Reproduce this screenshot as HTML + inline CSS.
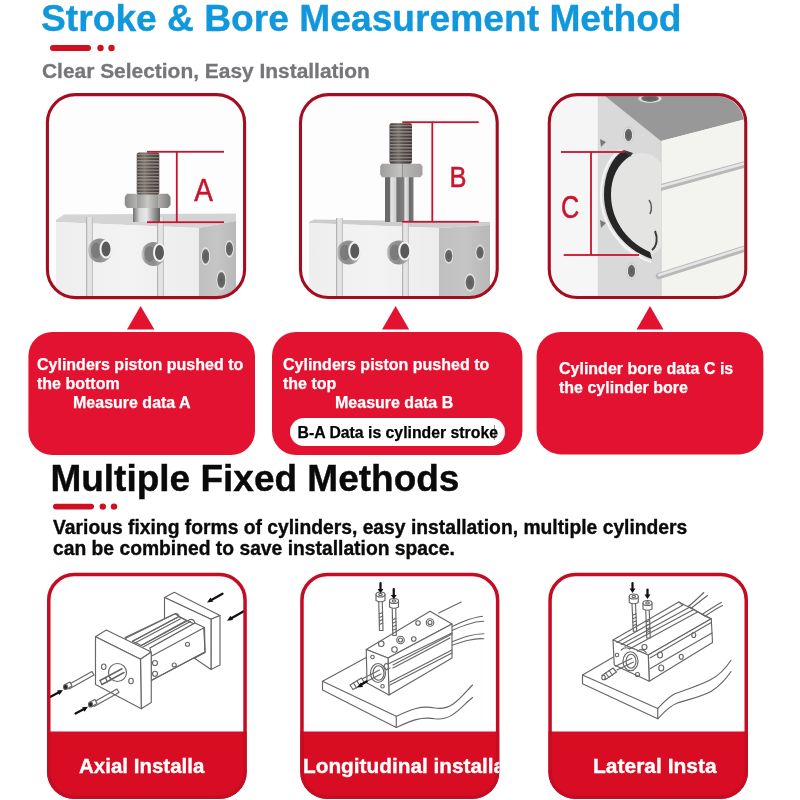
<!DOCTYPE html>
<html><head><meta charset="utf-8">
<style>
html,body{margin:0;padding:0;background:#fff;width:800px;height:800px;overflow:hidden}
svg{display:block;font-family:"Liberation Sans",sans-serif;will-change:transform}
</style></head>
<body>
<svg width="800" height="800" viewBox="0 0 800 800">
<defs>
  <linearGradient id="sideg" x1="0" x2="1" y1="0" y2="0">
    <stop offset="0" stop-color="#bfbfbf"/><stop offset="0.5" stop-color="#c5c5c5"/><stop offset="1" stop-color="#b8b8b8"/>
  </linearGradient>
  <linearGradient id="hring" x1="0" x2="1" y1="0" y2="0">
    <stop offset="0" stop-color="#cfcfcf"/><stop offset="0.15" stop-color="#9a9a9a"/><stop offset="0.5" stop-color="#8c8c8c"/><stop offset="1" stop-color="#bcbcbc"/>
  </linearGradient>
  <g id="hole">
    <circle cx="0" cy="0" r="12" fill="url(#hring)"/>
    <ellipse cx="-4" cy="0" rx="5" ry="8" fill="#6a6a6a" opacity="0.6"/>
    <ellipse cx="6" cy="-1.5" rx="5.5" ry="8.5" fill="#5a5a5a" stroke="#f2f2f2" stroke-width="2"/>
  </g>
  <clipPath id="c1"><rect x="49" y="96.3" width="194" height="200" rx="27"/></clipPath>
  <clipPath id="c2"><rect x="302" y="96.3" width="194" height="200" rx="27"/></clipPath>
  <clipPath id="c3"><rect x="551" y="96.3" width="193" height="200" rx="27"/></clipPath>
  <clipPath id="b1"><rect x="47" y="572.8" width="199.8" height="226" rx="27"/></clipPath>
  <clipPath id="b2"><rect x="300.2" y="572.8" width="199.2" height="226" rx="27"/></clipPath>
  <clipPath id="b3"><rect x="548.3" y="572.8" width="199.7" height="226" rx="27"/></clipPath>
</defs>

<!-- ===== Header ===== -->
<text x="41" y="31.4" font-size="37.2" font-weight="bold" fill="#1097dc" stroke="#1097dc" stroke-width="0.35">Stroke &amp; Bore Measurement Method</text>
<rect x="50" y="45" width="41" height="6" rx="3" fill="#d01020"/>
<circle cx="100.5" cy="48" r="3.2" fill="#d01020"/>
<circle cx="111.5" cy="48" r="3.2" fill="#d01020"/>
<text x="42" y="77.7" font-size="20.93" font-weight="bold" fill="#76767a" stroke="#76767a" stroke-width="0.3">Clear Selection, Easy Installation</text>

<!-- ===== Photo boxes ===== -->
<g id="photos">
<defs>
  <linearGradient id="shaft2g" x1="0" x2="1" y1="0" y2="0">
    <stop offset="0" stop-color="#6a6a6a"/><stop offset="0.17" stop-color="#6a6a6a"/><stop offset="0.2" stop-color="#e6e6e6"/><stop offset="0.38" stop-color="#d0d0d0"/><stop offset="0.42" stop-color="#707070"/><stop offset="0.66" stop-color="#808080"/><stop offset="0.7" stop-color="#e8e8e8"/><stop offset="0.82" stop-color="#c8c8c8"/><stop offset="0.85" stop-color="#6a6a6a"/><stop offset="1" stop-color="#7a7a7a"/>
  </linearGradient>
  <linearGradient id="rod2g" x1="0" x2="1" y1="0" y2="0">
    <stop offset="0" stop-color="#3e3a38"/><stop offset="0.4" stop-color="#6e6864"/><stop offset="0.65" stop-color="#504a47"/><stop offset="1" stop-color="#3a3634"/>
  </linearGradient>
  <linearGradient id="nut2g" x1="0" x2="1" y1="0" y2="0">
    <stop offset="0" stop-color="#9c9c9a"/><stop offset="0.5" stop-color="#c6c6c4"/><stop offset="0.52" stop-color="#8a8a88"/><stop offset="0.55" stop-color="#b8b8b6"/><stop offset="1" stop-color="#a0a09e"/>
  </linearGradient>
</defs>
<g clip-path="url(#c2)">
  <rect x="298" y="90" width="205" height="210" fill="#fdfdfd"/>
  <polygon points="309,222 314,219.5 490,222 490,225 439,228 309,223" fill="#cdcdcd"/>
  <polygon points="309,223 439,228 439,302 309,302" fill="url(#frontg)"/>
  <polygon points="439,228 490,225 490,302 439,302" fill="url(#sideg)"/>
  <rect x="336" y="218" width="7" height="84" fill="#e4e4e4"/>
  <rect x="336" y="218" width="1.2" height="84" fill="#b4b4b4"/>
  <rect x="341.8" y="218" width="1.2" height="84" fill="#c4c4c4"/>
  <rect x="402" y="218" width="7" height="84" fill="#e4e4e4"/>
  <rect x="402" y="218" width="1.2" height="84" fill="#b4b4b4"/>
  <rect x="407.8" y="218" width="1.2" height="84" fill="#c4c4c4"/>
  <use href="#hole" x="348.75" y="252.5"/>
  <use href="#hole" x="398.75" y="252.5"/>
  <ellipse cx="448.75" cy="256" rx="5" ry="8.5" fill="url(#sholeg)"/>
  <ellipse cx="480" cy="252.5" rx="5" ry="8.5" fill="url(#sholeg)"/>
  <ellipse cx="470" cy="282.5" rx="6" ry="10" fill="url(#sholeg)"/>
  <rect x="385" y="177" width="28.5" height="45" fill="url(#shaft2g)"/>
  <polygon points="380.2,166.5 382,163.75 420.5,163.75 422.5,166.5 422.5,174.5 420.5,177.25 382,177.25 380.2,174.5" fill="url(#nut2g)"/>
  <rect x="389.5" y="123.25" width="22.5" height="40.5" rx="2" fill="url(#rod2g)"/>
  <rect x="389.5" y="124.5" width="22.5" height="38" fill="url(#thread)"/>
  <g fill="#c8142e">
    <rect x="402.25" y="121.3" width="76.5" height="1.8"/>
    <rect x="402.25" y="220.9" width="76.5" height="1.8"/>
    <rect x="431.4" y="121.5" width="1.8" height="100"/>
  </g>
  <text x="0" y="0" font-size="30" fill="#c8142e" stroke="#c8142e" stroke-width="0.5" transform="translate(449.5,186.6) scale(0.85,1)">B</text>
</g>

<defs>
  <linearGradient id="endg" x1="0" x2="1" y1="0" y2="0">
    <stop offset="0" stop-color="#d8d8d8"/><stop offset="1" stop-color="#c8c8c8"/>
  </linearGradient>
  <linearGradient id="front3g" x1="0" x2="1" y1="0" y2="1">
    <stop offset="0" stop-color="#f4f4f0"/><stop offset="1" stop-color="#ececea"/>
  </linearGradient>
  <radialGradient id="pistong" cx="0.5" cy="0.45" r="0.6">
    <stop offset="0" stop-color="#e6e6e4"/><stop offset="1" stop-color="#c4c4c2"/>
  </radialGradient>
</defs>
<g clip-path="url(#c3)">
  <rect x="545" y="90" width="205" height="210" fill="#f6f6f6"/>
  <!-- end face -->
  <polygon points="597,96 661,96 661,301 597,301" fill="#d9d9d9"/>
  <line x1="597.5" y1="96" x2="597.5" y2="301" stroke="#eeeeee" stroke-width="1"/>
  <!-- top face (dark) -->
  <polygon points="605,96 750,96 750,118 661,141" fill="#989898"/>
  <!-- front face -->
  <polygon points="661,141 750,118 750,301 661,301" fill="#f3f3ef"/>
  <line x1="661" y1="141" x2="661" y2="301" stroke="#cfcfcf" stroke-width="1.2"/>
  <!-- grooves -->
  <line x1="659" y1="188" x2="750" y2="163" stroke="#b8b8b8" stroke-width="6.5" stroke-linecap="round"/>
  <line x1="659" y1="187" x2="750" y2="162" stroke="#e6e6e6" stroke-width="2.5" stroke-linecap="round"/>
  <line x1="659" y1="276" x2="750" y2="247" stroke="#b8b8b8" stroke-width="6.5" stroke-linecap="round"/>
  <line x1="659" y1="275" x2="750" y2="246" stroke="#e6e6e6" stroke-width="2.5" stroke-linecap="round"/>
  <!-- piston + o-ring -->
  <clipPath id="endclip"><rect x="597" y="96" width="64" height="205"/></clipPath>
  <g clip-path="url(#endclip)">
    <ellipse cx="642" cy="205" rx="33" ry="52" fill="#e4e4e2"/>
  </g>
  <path d="M621,150 C608,158 601,175 601,195 C601,226 623,252 651,262" fill="none" stroke="#f4f4f4" stroke-width="2.2"/>
  <path d="M624,150 C611,158 604,175 604,195 C604,225 625,250 652,259 L650,252 C630,244 611,222 611,195 C611,177 618,164 630,156 Z" fill="#262626"/>
  <path d="M624,150 L633,153 L630,157 Z" fill="#3a3a3a"/>
  <path d="M649,200 C652,204 652,210 650,214" stroke="#5a5a5a" stroke-width="1.5" fill="none"/>
  <path d="M655,231 C658,238 657,246 652,250" stroke="#3a3a3a" stroke-width="2" fill="none"/>
  <!-- small holes -->
  <ellipse cx="628.5" cy="135" rx="5" ry="8.5" fill="url(#sholeg)"/>
  <ellipse cx="631.5" cy="271" rx="5" ry="8.5" fill="url(#sholeg)"/>
  <ellipse cx="650" cy="98.5" rx="12" ry="4.5" fill="url(#sholeg)"/>
  <polygon points="600,139 606,142 601,147" fill="#7a7a7a"/>
  <polygon points="600,220 606,223 601,228" fill="#7a7a7a"/>
  <g fill="#c8142e">
    <rect x="561" y="151.1" width="64" height="1.8"/>
    <rect x="563.7" y="254.1" width="75.3" height="1.8"/>
    <rect x="590.1" y="152" width="1.8" height="103"/>
  </g>
  <text x="0" y="0" font-size="31.5" fill="#c8142e" stroke="#c8142e" stroke-width="0.6" transform="translate(561,217.6) scale(0.8,1)">C</text>
</g>

<defs>
  <linearGradient id="rodg" x1="0" x2="1" y1="0" y2="0">
    <stop offset="0" stop-color="#4a4440"/><stop offset="0.35" stop-color="#7a726c"/><stop offset="0.6" stop-color="#5a524e"/><stop offset="1" stop-color="#3e3834"/>
  </linearGradient>
  <pattern id="thread" width="24" height="3.2" patternUnits="userSpaceOnUse">
    <rect width="24" height="1.3" fill="#b0a8a2" opacity="0.7"/>
  </pattern>
  <linearGradient id="nutg" x1="0" x2="1" y1="0" y2="0">
    <stop offset="0" stop-color="#8a8a88"/><stop offset="0.27" stop-color="#b4b4b2"/><stop offset="0.28" stop-color="#9c9c9a"/><stop offset="0.5" stop-color="#c8c8c6"/><stop offset="0.72" stop-color="#9a9a98"/><stop offset="0.73" stop-color="#b0b0ae"/><stop offset="1" stop-color="#7c7c7a"/>
  </linearGradient>
  <linearGradient id="shaftg" x1="0" x2="1" y1="0" y2="0">
    <stop offset="0" stop-color="#707070"/><stop offset="0.25" stop-color="#d8d8d8"/><stop offset="0.5" stop-color="#e8e8e8"/><stop offset="0.75" stop-color="#a0a0a0"/><stop offset="1" stop-color="#606060"/>
  </linearGradient>
  <linearGradient id="frontg" x1="0" x2="1" y1="0" y2="0">
    <stop offset="0" stop-color="#eeeeee"/><stop offset="0.5" stop-color="#f3f3f3"/><stop offset="1" stop-color="#ececec"/>
  </linearGradient>
  <radialGradient id="holeg" cx="0.45" cy="0.5" r="0.5">
    <stop offset="0" stop-color="#4a4a4a"/><stop offset="0.45" stop-color="#5a5a5a"/><stop offset="0.62" stop-color="#a8a8a8"/><stop offset="0.85" stop-color="#7a7a7a"/><stop offset="1" stop-color="#b0b0b0"/>
  </radialGradient>
  <radialGradient id="sholeg" cx="0.5" cy="0.5" r="0.5">
    <stop offset="0" stop-color="#5a5a5a"/><stop offset="0.65" stop-color="#6a6a6a"/><stop offset="0.8" stop-color="#e8e8e8"/><stop offset="1" stop-color="#bdbdbd"/>
  </radialGradient>
</defs>
<g clip-path="url(#c1)">
  <rect x="45" y="90" width="205" height="210" fill="#fdfdfd"/>
  <polygon points="56,220 64,214.5 236,213.5 236,221 199,228 56,222" fill="#d4d4d4"/>
  <polygon points="56,222 199,228 199,301 56,301" fill="url(#frontg)"/>
  <polygon points="199,228 236,221 236,301 199,301" fill="url(#sideg)"/>
  <rect x="86" y="217" width="7" height="84" fill="#e4e4e4"/>
  <rect x="86" y="217" width="1.2" height="84" fill="#b4b4b4"/>
  <rect x="91.8" y="217" width="1.2" height="84" fill="#c4c4c4"/>
  <rect x="157" y="217" width="7" height="84" fill="#e4e4e4"/>
  <rect x="157" y="217" width="1.2" height="84" fill="#b4b4b4"/>
  <rect x="162.8" y="217" width="1.2" height="84" fill="#c4c4c4"/>
  <use href="#hole" x="100" y="250.5"/>
  <use href="#hole" x="153.5" y="254"/>
  <ellipse cx="205.6" cy="256.3" rx="5" ry="10" fill="url(#sholeg)"/>
  <ellipse cx="229.4" cy="248.8" rx="4.8" ry="9.5" fill="url(#sholeg)"/>
  <ellipse cx="221.3" cy="280" rx="5.5" ry="11" fill="url(#sholeg)"/>
  <rect x="133" y="206" width="27" height="16" fill="url(#shaftg)"/>
  <polygon points="124.75,197 127,193.75 168,193.75 170.5,197 170.5,205 168,208 127,208 124.75,205" fill="url(#nutg)"/>
  <rect x="136.75" y="152.5" width="22.5" height="42" rx="2" fill="url(#rodg)"/>
  <rect x="136.75" y="153.5" width="22.5" height="40" fill="url(#thread)"/>
  <g fill="#c8142e">
    <rect x="147" y="150.9" width="77" height="1.8"/>
    <rect x="147" y="221.3" width="77" height="1.8"/>
    <rect x="175.9" y="151" width="1.8" height="71"/>
  </g>
  <text x="0" y="0" font-size="31" fill="#c8142e" stroke="#c8142e" stroke-width="0.5" transform="translate(194.3,201.3) scale(0.9,1)">A</text>
</g>
</g>
<rect x="47.4" y="94.6" width="197.2" height="203" rx="28" fill="none" stroke="#a40c20" stroke-width="3.1"/>
<rect x="300.5" y="94.6" width="196.7" height="202.9" rx="28" fill="none" stroke="#a40c20" stroke-width="3.1"/>
<rect x="549.25" y="94.6" width="196.5" height="202.9" rx="28" fill="none" stroke="#a40c20" stroke-width="3.1"/>

<!-- ===== Triangles + red boxes ===== -->
<g fill="#e31230">
  <polygon points="127,329.6 140.6,306 154.4,329.6"/>
  <polygon points="382,329.6 395.6,306 409.2,329.6"/>
  <polygon points="636.5,329.6 650,306 663.5,329.6"/>
  <rect x="28.4" y="332" width="226.6" height="123" rx="24"/>
  <rect x="272" y="332" width="250.4" height="123" rx="24"/>
  <rect x="536.6" y="332" width="226.8" height="122.4" rx="24"/>
</g>
<g fill="#fff" font-size="16" font-weight="bold" stroke="#fff" stroke-width="0.25">
  <text x="37" y="370">Cylinders piston pushed to</text>
  <text x="37" y="388.6">the bottom</text>
  <text x="73" y="407.6">Measure data A</text>
  <text x="283" y="370">Cylinders piston pushed to</text>
  <text x="283" y="388.6">the top</text>
  <text x="335" y="407.6">Measure data B</text>
  <text x="559" y="374">Cylinder bore data C is</text>
  <text x="559" y="393.2">the cylinder bore</text>
</g>
<rect x="290" y="418" width="215" height="28" rx="14" fill="#fff"/>
<rect x="494.2" y="425" width="0.8" height="15" fill="#000" opacity="0.55"/>
<text x="297.5" y="438" font-size="15.8" font-weight="bold" fill="#000" stroke="#000" stroke-width="0.25">B-A Data is cylinder stroke</text>

<!-- ===== Section 2 ===== -->
<text x="50.4" y="490.6" font-size="37" font-weight="bold" fill="#0a0a0a" stroke="#0a0a0a" stroke-width="0.4">Multiple Fixed Methods</text>
<rect x="53" y="503.8" width="41" height="5.6" rx="2.8" fill="#d01020"/>
<circle cx="102.8" cy="506.6" r="3.2" fill="#d01020"/>
<circle cx="114" cy="506.6" r="3.2" fill="#d01020"/>
<g font-size="19.3" font-weight="bold" fill="#0a0a0a" stroke="#0a0a0a" stroke-width="0.35">
  <text x="53" y="533.6">Various fixing forms of cylinders, easy installation, multiple cylinders</text>
  <text x="53" y="555.2">can be combined to save installation space.</text>
</g>

<!-- ===== Bottom boxes ===== -->
<g id="drawings">
<g transform="translate(50,590) scale(0.25)" fill="none" stroke="#666" stroke-width="4.6" stroke-linejoin="round" stroke-linecap="round">
  <!-- back plate -->
  <polygon points="458,30 497,9 680,102 644,117" fill="#fff"/>
  <polygon points="644,117 680,102 680,300 644,318" fill="#fff"/>
  <polygon points="458,30 644,117 644,318 578,273 458,215" fill="#fff"/>
  <!-- body -->
  <polygon points="300,190 500,95 520,108 600,148 615,150 620,248 405,362 362,300" fill="#fff"/>
  <path d="M305,192 L500,95 Q512,92 516,106 L330,205"/>
  <path d="M330,205 L516,106 L545,122 L365,222 Z"/>
  <path d="M340,212 L522,115"/>
  <path d="M365,222 L560,118 Q575,115 580,132 L400,232"/>
  <path d="M372,228 L562,126"/>
  <path d="M400,232 L580,132 L618,150 L405,265 Z" fill="#fff"/>
  <path d="M405,265 L405,362 L620,248 L618,150"/>
  <path d="M578,273 L620,250"/>
  <circle cx="420" cy="292" r="10"/>
  <circle cx="420" cy="335" r="10"/>
  <circle cx="497" cy="300" r="8"/>
  <circle cx="550" cy="217" r="8"/>
  <!-- front plate -->
  <polygon points="182,187 225,160 405,248 362,277" fill="#fff"/>
  <polygon points="362,277 405,248 405,450 365,475" fill="#fff"/>
  <polygon points="182,187 362,277 365,475 182,378" fill="#fff"/>
  <circle cx="270" cy="330" r="36"/>
  <ellipse cx="215" cy="307" rx="9" ry="11"/>
  <ellipse cx="324" cy="364" rx="9" ry="11"/>
  <path d="M200,362 L288,315 M208,378 L296,330" stroke-width="6"/>
  <path d="M200,362 L208,378 M222,352 L230,368 M236,344 L244,360" stroke-width="5"/>
  <!-- bolts -->
  <path d="M68,382 L168,326 M76,396 L176,340 M168,326 L176,340"/>
  <path d="M168,452 L268,396 M176,466 L276,410 M268,396 L276,410"/>
  <path d="M60,378 L80,368 L88,384 L68,396" fill="#fff"/>
  <ellipse cx="62" cy="388" rx="8" ry="10" fill="#222"/>
  <path d="M160,448 L180,438 L188,454 L168,466" fill="#fff"/>
  <ellipse cx="162" cy="458" rx="8" ry="10" fill="#222"/>
</g>
<g transform="translate(50,590) scale(0.25)" stroke="#111" stroke-width="9" fill="#111" stroke-linecap="round">
  <path d="M2,427 L40,407" /><polygon points="52,400 28,402 38,420" stroke="none"/>
  <path d="M102,494 L140,474" /><polygon points="152,467 128,469 138,487" stroke="none"/>
  <path d="M690,15 L642,42" /><polygon points="628,50 652,47 642,30" stroke="none"/>
  <path d="M775,85 L722,115" /><polygon points="708,123 732,120 722,103" stroke="none"/>
</g>

<g transform="translate(300,580) scale(0.25)" fill="none" stroke="#666" stroke-width="4.6" stroke-linejoin="round" stroke-linecap="round">
  <!-- board -->
  <path d="M90,405 L265,308 L700,308 L700,430 C650,460 610,520 560,515 C500,505 450,520 385,545 Z" fill="#fff" stroke="none"/>
  <path d="M265,310 L90,405 L385,545 C440,520 480,500 540,512 C610,525 650,460 690,420"/>
  <path d="M90,405 L90,440 L385,590 L385,545"/>
  <path d="M385,590 C440,565 480,545 540,555 C610,565 650,500 690,470"/>
  <!-- long line back -->
  <path d="M555,132 L645,88"/>
  <!-- cables -->
  <path d="M560,210 C620,180 680,150 730,145"/>
  <path d="M570,220 C630,190 690,165 735,165"/>
  <path d="M600,250 C650,230 690,215 735,215"/>
  <path d="M605,262 C655,245 695,232 735,235"/>
  <!-- cylinder -->
  <polygon points="265,278 520,125 608,176 352,312" fill="#fff"/>
  <polygon points="352,312 608,176 608,312 356,460" fill="#fff"/>
  <polygon points="265,278 352,312 356,460 268,412" fill="#fff"/>
  <path d="M352,336 L608,212"/>
  <path d="M372,340 L608,216 M372,352 L600,232"/>
  <path d="M360,408 L608,280 M360,420 L608,292"/>
  <path d="M352,336 Q340,330 336,345 L345,360 Q352,352 360,352"/>
  <ellipse cx="312" cy="372" rx="30" ry="38"/>
  <ellipse cx="314" cy="372" rx="22" ry="29"/>
  <circle cx="325" cy="255" r="11"/>
  <circle cx="378" cy="278" r="11"/>
  <circle cx="402" cy="240" r="15"/><circle cx="402" cy="240" r="8"/>
  <circle cx="455" cy="236" r="9"/>
  <circle cx="472" cy="172" r="9"/>
  <circle cx="520" cy="170" r="15"/><circle cx="520" cy="170" r="8"/>
  <circle cx="290" cy="308" r="7"/>
  <circle cx="330" cy="425" r="7"/>
  <!-- rod -->
  <path d="M250,395 L318,360 M258,410 L324,376"/>
  <path d="M200,420 L246,392 L258,412 L212,438 Z" fill="#fff"/>
  <path d="M214,412 L226,432 M228,404 L240,424"/>
  <!-- bolts -->
  <path d="M304,58 L304,82 Q322,92 340,82 L340,58" fill="#fff"/>
  <ellipse cx="322" cy="58" rx="18" ry="10" fill="#fff"/>
  <ellipse cx="322" cy="58" rx="7" ry="4.5"/>
  <path d="M315,88 L318,202 M329,88 L332,202 M318,202 L332,202"/>
  <path d="M316.5,136 L330.5,130 M316.8,150 L330.8,144 M317.1,164 L331.1,158 M317.4,178 L331.4,172"/>
  <path d="M358,84 L358,108 Q376,118 394,108 L394,84" fill="#fff"/>
  <ellipse cx="376" cy="84" rx="18" ry="10" fill="#fff"/>
  <ellipse cx="376" cy="84" rx="7" ry="4.5"/>
  <path d="M369,114 L371,222 M383,114 L385,222 M371,222 L385,222"/>
  <path d="M370.0,159 L384.0,153 M370.2,173 L384.2,167 M370.4,187 L384.4,181 M370.6,201 L384.6,195"/>
</g>
<g transform="translate(300,580) scale(0.25)" stroke="#111" stroke-width="9" fill="#111" stroke-linecap="round">
  <path d="M322,12 L322,38"/><polygon points="310,36 334,36 322,52" stroke="none"/>
  <path d="M375,36 L375,62"/><polygon points="363,60 387,60 375,76" stroke="none"/>
  <path d="M242,420 L266,406" stroke-width="10"/><polygon points="228,430 252,428 244,410" stroke="none"/>
</g>

<g transform="translate(550,580) scale(0.25)" fill="none" stroke="#666" stroke-width="4.6" stroke-linejoin="round" stroke-linecap="round">
  <!-- board -->
  <path d="M256,307 L130,380 L431,514 C455,490 470,470 500,455 C540,440 590,425 640,400 C680,380 705,350 724,321"/>
  <path d="M130,380 L130,415 L431,555 L431,514"/>
  <path d="M431,555 C455,530 475,505 510,492 C550,478 600,470 645,445 C685,420 708,390 724,366"/>
  <!-- cables -->
  <path d="M545,112 C575,90 600,65 615,50"/>
  <path d="M555,120 C585,98 612,75 630,62"/>
  <path d="M605,140 C635,120 665,100 685,90"/>
  <path d="M615,148 C645,128 672,110 690,102"/>
  <!-- cylinder -->
  <polygon points="252,240 515,88 645,155 393,300" fill="#fff"/>
  <polygon points="393,300 645,155 650,250 397,405" fill="#fff"/>
  <polygon points="252,240 393,300 397,405 257,340" fill="#fff"/>
  <path d="M515,88 L532,100 L268,250"/>
  <path d="M285,258 L560,108 L620,145 L645,155"/>
  <path d="M300,265 L575,118 M318,276 L590,128"/>
  <path d="M400,312 L645,170"/>
  <path d="M400,355 L648,212"/>
  <ellipse cx="322" cy="325" rx="30" ry="38"/>
  <ellipse cx="324" cy="325" rx="20" ry="28"/>
  <circle cx="268" cy="300" r="7"/>
  <circle cx="350" cy="378" r="8"/>
  <circle cx="378" cy="268" r="10"/>
  <path d="M285,280 Q300,265 318,275 M350,285 Q368,270 385,290"/>
  <ellipse cx="440" cy="300" rx="10" ry="12"/>
  <ellipse cx="445" cy="352" rx="10" ry="12"/>
  <ellipse cx="525" cy="307" rx="8" ry="10"/>
  <ellipse cx="575" cy="220" rx="8" ry="10"/>
  <!-- rod -->
  <path d="M262,345 L328,313 M268,360 L334,328"/>
  <path d="M208,382 L252,352 L266,368 L222,398 Z" fill="#fff"/>
  <path d="M222,372 L236,390 M236,362 L250,380"/>
  <ellipse cx="214" cy="390" rx="7" ry="9" fill="#fff"/>
  <path d="M317,66 L317,90 Q335,100 353,90 L353,66" fill="#fff"/>
  <ellipse cx="335" cy="66" rx="18" ry="10" fill="#fff"/>
  <ellipse cx="335" cy="66" rx="7" ry="4.5"/>
  <path d="M328,96 L333,205 M342,96 L347,205 M333,205 L347,205"/>
  <path d="M330.5,141 L344.5,135 M331.0,155 L345.0,149 M331.5,169 L345.5,163 M332.0,183 L346.0,177"/>
  <path d="M372,92 L372,116 Q390,126 408,116 L408,92" fill="#fff"/>
  <ellipse cx="390" cy="92" rx="18" ry="10" fill="#fff"/>
  <ellipse cx="390" cy="92" rx="7" ry="4.5"/>
  <path d="M383,122 L387,232 M397,122 L401,232 M387,232 L401,232"/>
  <path d="M385.0,168 L399.0,162 M385.4,182 L399.4,176 M385.8,196 L399.8,190 M386.2,210 L400.2,204"/>
</g>
<g transform="translate(550,580) scale(0.25)" stroke="#111" stroke-width="9" fill="#111" stroke-linecap="round">
  <path d="M330,12 L330,36"/><polygon points="318,34 342,34 330,52" stroke="none"/>
  <path d="M390,38 L390,60"/><polygon points="378,58 402,58 390,76" stroke="none"/>
</g>
</g>
<g fill="#d80d24">
  <rect x="47" y="731.5" width="199.8" height="67.5" clip-path="url(#b1)"/>
  <rect x="300.2" y="731.5" width="199.2" height="67.5" clip-path="url(#b2)"/>
  <rect x="548.3" y="731.5" width="199.7" height="67.5" clip-path="url(#b3)"/>
</g>
<g fill="none" stroke="#c40c22" stroke-width="3.5">
  <rect x="48.75" y="574.55" width="196.3" height="222.7" rx="25.5"/>
  <rect x="301.95" y="574.55" width="195.7" height="222.7" rx="25.5"/>
  <rect x="550.05" y="574.55" width="196.2" height="222.7" rx="25.5"/>
</g>
<g font-size="20.5" font-weight="bold" fill="#fff" stroke="#fff" stroke-width="0.35">
  <text x="79" y="772.5">Axial Installa</text>
  <g clip-path="url(#b2)"><text x="303" y="772.5" font-size="20.8">Longitudinal installa</text></g>
  <text x="593" y="772.5" font-size="21">Lateral Insta</text>
</g>
</svg>
</body></html>
